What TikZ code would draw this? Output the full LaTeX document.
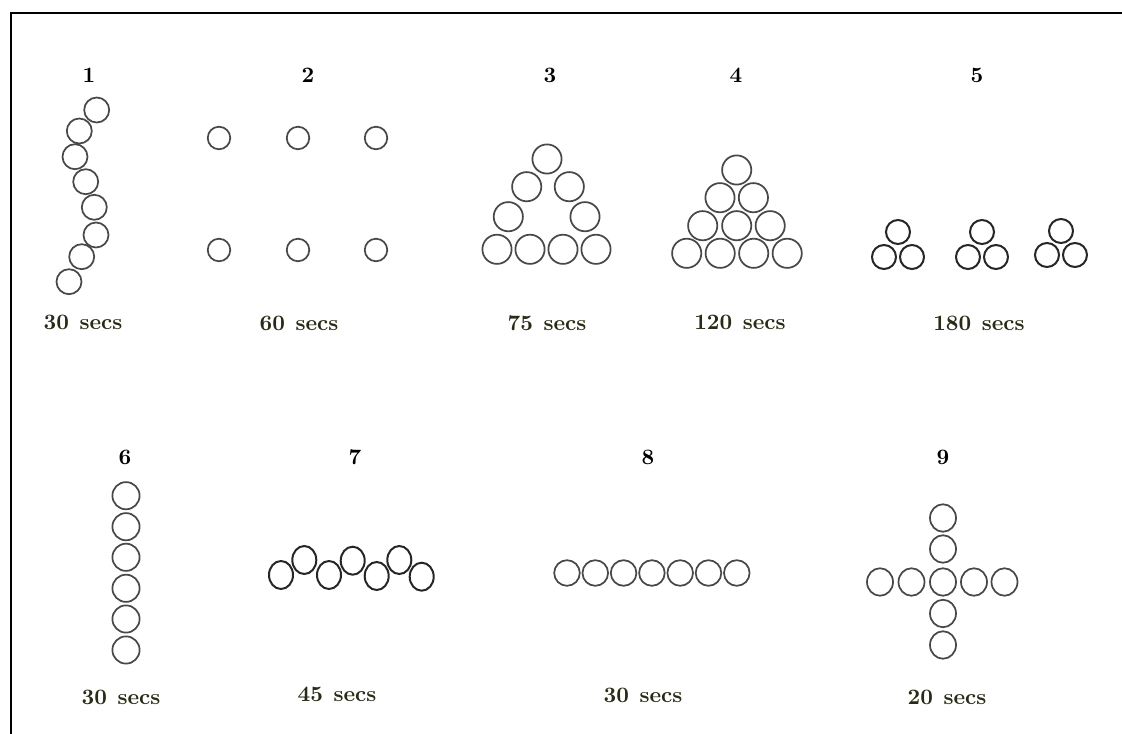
\documentclass[tikz,border=0pt]{standalone}
\usetikzlibrary{shapes.geometric}
\definecolor{secscol}{RGB}{38,44,22}
\definecolor{ringcol}{RGB}{72,72,72}
\font\mylabelfnt=cmbx10 at 16.5pt
\newcommand\mysecsfont{\mylabelfnt\spaceskip=0.42em plus 0pt minus 0pt\relax}
\newcommand\mynumfont{\mylabelfnt}
\tikzset{
  ring/.style={circle,draw=ringcol,line width=1.3pt,inner sep=0pt,minimum size=#1},
  ringdark/.style={circle,draw=black!85,line width=1.5pt,inner sep=0pt,minimum size=#1},
  oval/.style={ellipse,draw=black!85,line width=1.5pt,inner sep=0pt,minimum width=18pt,minimum height=21pt},
  ovalnine/.style={ellipse,draw=ringcol,line width=1.3pt,inner sep=0pt,minimum width=19.5pt,minimum height=20.6pt},
  num/.style={font=\mynumfont,text=black,inner sep=0pt},
  secs/.style={font=\mysecsfont,text=secscol,inner sep=0pt}
}
\begin{document}
\begin{tikzpicture}[x=0.75pt,y=-0.75pt]
\useasboundingbox (0,0) rectangle (1122,734);
% frame
\coordinate (fr1) at (1122,13);
\coordinate (fr2) at (11,13);
\coordinate (fr3) at (11,734);
\draw[line width=2.2pt] (fr1) -- (fr2) -- (fr3);

% ---- labels row 1
\node[num] (n1) at (89,75) {1};
\node[num] (n2) at (308,75) {2};
\node[num] (n3) at (550,75) {3};
\node[num] (n4) at (736,75) {4};
\node[num] (n5) at (977,75) {5};
\node[secs] (s1) at (83,322) {30 secs};
\node[secs] (s2) at (299,323) {60 secs};
\node[secs] (s3) at (547,323) {75 secs};
\node[secs] (s4) at (740,322) {120 secs};
\node[secs] (s5) at (979,323) {180 secs};
% ---- labels row 2
\node[num] (n6) at (125,457) {6};
\node[num] (n7) at (355,457) {7};
\node[num] (n8) at (648,457) {8};
\node[num] (n9) at (943,457) {9};
\node[secs] (s6) at (121,697) {30 secs};
\node[secs] (s7) at (337,694) {45 secs};
\node[secs] (s8) at (643,695) {30 secs};
\node[secs] (s9) at (947,697) {20 secs};

% ---- group 1
\foreach \x/\y [count=\i] in {96.7/110,79.3/131,75/156.7,85.7/181.7,94.3/207.3,96/235,81.7/256.7,69/281.7}
  \node[ring=18.75pt] (a\i) at (\x,\y) {};
% ---- group 2
\foreach \x/\y [count=\i] in {219/138,298/138,376/138,219/250,298/250,376/250}
  \node[ring=16.9pt] (b\i) at (\x,\y) {};
% ---- group 3
\foreach \x/\y [count=\i] in {547/159,526.7/186.7,569.3/186.7,508.3/216.7,585/216.7,497/249.3,530/249.3,563/249.3,596/249.3}
  \node[ring=21.9pt] (c\i) at (\x,\y) {};
% ---- group 4
\foreach \x/\y [count=\i] in {736.7/170,720/197.7,753.4/197.7,702.7/225.7,736.7/225.7,770.2/225.7,686.7/253.3,720.2/253.3,753.7/253.3,787.2/253.3}
  \node[ring=21.9pt] (d\i) at (\x,\y) {};
% ---- group 5
\foreach \x/\y [count=\i] in {898/232,884/257,912/257,982/232,968/257,996/257,1061/231,1047/255,1075/255}
  \node[ringdark=18pt] (e\i) at (\x,\y) {};
% ---- group 6
\foreach \y [count=\i] in {495.7,526.7,557.3,588.3,619,650}
  \node[ring=20.4pt] (f\i) at (126,\y) {};
% ---- group 7
\foreach \x/\y [count=\i] in {281/575,304.3/560,329/575,352.7/560.7,376.7/576,399.3/560,421.7/576.7}
  \node[oval] (g\i) at (\x,\y) {};
% ---- group 8
\foreach \x [count=\i] in {567,595.3,623.6,651.9,680.2,708.5,736.8}
  \node[ring=19.2pt] (h\i) at (\x,573) {};
% ---- group 9
\foreach \x/\y [count=\i] in {943/518,943/549,880/582,911.5/582,943/582,974/582,1004.5/582,943/613.5,943/645}
  \node[ovalnine] (k\i) at (\x,\y) {};
\end{tikzpicture}
\end{document}
